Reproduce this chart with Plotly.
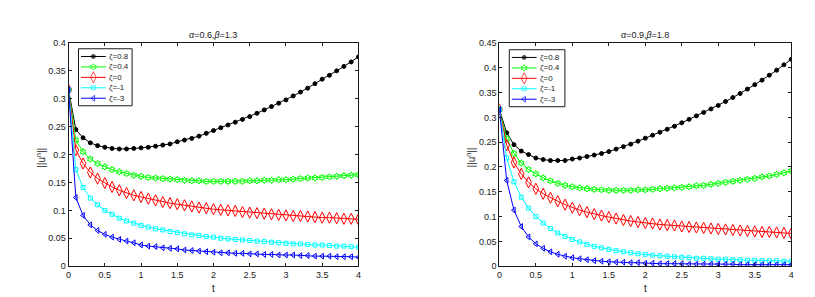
import plotly.graph_objects as go

t = [round(0.1 * i, 1) for i in range(41)]

labels = ["ζ=0.8", "ζ=0.4", "ζ=0", "ζ=-1", "ζ=-3"]
colors = ["#000000", "#00ff00", "#ff0000", "#00ffff", "#0000ff"]
symbols = ["circle", "hexagram-open", "diamond-tall-open", "square-open", "triangle-left-open"]
msizes = [4, 5, 8, 4, 5]

# Left panel: alpha=0.6, beta=1.3
left_z08 = [0.316, 0.245, 0.230, 0.221, 0.216, 0.213, 0.211, 0.210, 0.210, 0.211,
            0.212, 0.213, 0.215, 0.217, 0.219, 0.223, 0.226, 0.229, 0.233, 0.238,
            0.243, 0.248, 0.253, 0.258, 0.263, 0.268, 0.274, 0.280, 0.286, 0.292,
            0.298, 0.305, 0.312, 0.319, 0.327, 0.335, 0.342, 0.350, 0.358, 0.366, 0.375]
left_z04 = [0.316, 0.226, 0.205, 0.192, 0.184, 0.178, 0.173, 0.169, 0.166, 0.163,
            0.161, 0.159, 0.158, 0.157, 0.156, 0.155, 0.154, 0.153, 0.153, 0.152,
            0.152, 0.152, 0.152, 0.152, 0.152, 0.153, 0.153, 0.154, 0.154, 0.155,
            0.155, 0.156, 0.157, 0.158, 0.158, 0.159, 0.160, 0.161, 0.162, 0.163, 0.164]
left_z0 = [0.316, 0.208, 0.184, 0.168, 0.157, 0.149, 0.142, 0.136, 0.131, 0.127,
           0.124, 0.121, 0.118, 0.115, 0.113, 0.111, 0.109, 0.107, 0.105, 0.104,
           0.102, 0.101, 0.100, 0.099, 0.097, 0.096, 0.095, 0.094, 0.093, 0.092,
           0.091, 0.090, 0.090, 0.089, 0.088, 0.087, 0.087, 0.086, 0.085, 0.085, 0.084]
left_zm1 = [0.316, 0.173, 0.141, 0.122, 0.110, 0.100, 0.093, 0.086, 0.081, 0.077,
            0.073, 0.070, 0.067, 0.065, 0.062, 0.060, 0.058, 0.056, 0.055, 0.053,
            0.052, 0.050, 0.049, 0.048, 0.047, 0.046, 0.045, 0.044, 0.043, 0.042,
            0.041, 0.040, 0.040, 0.039, 0.038, 0.038, 0.037, 0.036, 0.036, 0.035, 0.034]
left_zm3 = [0.316, 0.123, 0.091, 0.074, 0.064, 0.057, 0.052, 0.048, 0.045, 0.042,
            0.038, 0.036, 0.035, 0.033, 0.032, 0.031, 0.029, 0.028, 0.027, 0.026,
            0.025, 0.024, 0.024, 0.023, 0.023, 0.022, 0.022, 0.021, 0.021, 0.020,
            0.020, 0.020, 0.019, 0.019, 0.018, 0.018, 0.018, 0.017, 0.017, 0.017, 0.016]

# Right panel: alpha=0.9, beta=1.8
right_z08 = [0.316, 0.269, 0.245, 0.232, 0.225, 0.218, 0.215, 0.213, 0.213, 0.213,
             0.216, 0.218, 0.221, 0.224, 0.227, 0.231, 0.236, 0.241, 0.246, 0.252,
             0.258, 0.264, 0.270, 0.276, 0.282, 0.289, 0.296, 0.303, 0.310, 0.317,
             0.324, 0.332, 0.340, 0.348, 0.357, 0.366, 0.375, 0.385, 0.395, 0.406, 0.417]
right_z04 = [0.316, 0.257, 0.227, 0.208, 0.195, 0.186, 0.178, 0.172, 0.167, 0.163,
             0.160, 0.158, 0.156, 0.155, 0.154, 0.153, 0.153, 0.153, 0.153, 0.154,
             0.154, 0.155, 0.156, 0.157, 0.158, 0.159, 0.160, 0.162, 0.163, 0.165,
             0.167, 0.169, 0.171, 0.173, 0.175, 0.177, 0.180, 0.182, 0.185, 0.188, 0.192]
right_z0 = [0.316, 0.244, 0.209, 0.186, 0.169, 0.156, 0.146, 0.138, 0.131, 0.124,
            0.118, 0.113, 0.109, 0.105, 0.102, 0.099, 0.096, 0.093, 0.091, 0.089,
            0.087, 0.086, 0.084, 0.083, 0.082, 0.080, 0.079, 0.078, 0.077, 0.076,
            0.075, 0.074, 0.073, 0.072, 0.071, 0.070, 0.069, 0.069, 0.068, 0.067, 0.066]
right_zm1 = [0.316, 0.218, 0.170, 0.139, 0.117, 0.100, 0.087, 0.076, 0.067, 0.060,
             0.054, 0.049, 0.044, 0.040, 0.037, 0.034, 0.031, 0.029, 0.027, 0.025,
             0.024, 0.022, 0.021, 0.020, 0.019, 0.018, 0.017, 0.016, 0.016, 0.015,
             0.014, 0.014, 0.013, 0.013, 0.012, 0.012, 0.011, 0.011, 0.011, 0.010, 0.010]
right_zm3 = [0.316, 0.173, 0.113, 0.080, 0.059, 0.045, 0.036, 0.029, 0.024, 0.020,
             0.017, 0.015, 0.013, 0.011, 0.010, 0.009, 0.008, 0.008, 0.007, 0.007,
             0.006, 0.006, 0.005, 0.005, 0.005, 0.005, 0.004, 0.004, 0.004, 0.004,
             0.004, 0.004, 0.004, 0.003, 0.003, 0.003, 0.003, 0.003, 0.003, 0.003, 0.003]

left_series = [left_z08, left_z04, left_z0, left_zm1, left_zm3]
right_series = [right_z08, right_z04, right_z0, right_zm1, right_zm3]

FONT = "Liberation Sans, Arial, sans-serif"
INK = "#1a1a1a"
W, H = 815, 297

fig = go.Figure()

def add_panel(series, xa, ya):
    for i, ys in enumerate(series):
        fig.add_trace(go.Scatter(
            x=t, y=ys, mode="lines+markers", name=labels[i], showlegend=False,
            line=dict(color=colors[i], width=1),
            marker=dict(symbol=symbols[i], size=msizes[i], color=colors[i],
                        line=dict(width=1, color=colors[i])),
            xaxis=xa, yaxis=ya))

add_panel(left_series, "x", "y")
add_panel(right_series, "x2", "y2")

# Compact MATLAB-style legend boxes drawn in small inset axes (pixel units)
legend_boxes = [  # (left, top, right, bottom) in page pixels
    (68, 37, 122, 96),
    (502, 38, 558, 97),
]
row_y = [8, 18.8, 29.6, 40.4, 51.2]

layout_extra = {}
for k, (bl, bt, br, bb) in enumerate(legend_boxes):
    n = 3 + k
    xa, ya = f"x{n}", f"y{n}"
    bw, bh = br - bl, bb - bt
    layout_extra[f"xaxis{n}"] = dict(domain=[bl / W, br / W], range=[0, bw], visible=False,
                                     fixedrange=True, anchor=ya)
    layout_extra[f"yaxis{n}"] = dict(domain=[1 - bb / H, 1 - bt / H], range=[bh, 0],
                                     visible=False, fixedrange=True, anchor=xa)
    fig.add_shape(type="rect", xref=f"{xa} domain", yref=f"{ya} domain",
                  x0=0, x1=1, y0=0, y1=1, line=dict(color=INK, width=1),
                  fillcolor="white", layer="below")
    for i in range(5):
        fig.add_trace(go.Scatter(
            x=[2.5, 15, 27.5], y=[row_y[i]] * 3, mode="lines+markers",
            showlegend=False, hoverinfo="skip",
            line=dict(color=colors[i], width=1),
            marker=dict(symbol=symbols[i], size=[0, msizes[i], 0], color=colors[i],
                        line=dict(width=[0, 1, 0], color=colors[i])),
            xaxis=xa, yaxis=ya))
        fig.add_annotation(xref=xa, yref=ya, x=29, y=row_y[i], text=labels[i],
                           showarrow=False, xanchor="left", yanchor="middle",
                           font=dict(size=8, family=FONT, color=INK))

ax_common = dict(showline=True, linecolor=INK, linewidth=1, mirror="allticks",
                 ticks="inside", ticklen=3, tickcolor=INK, showgrid=False,
                 zeroline=False, tickfont=dict(size=9, color=INK, family=FONT))

ydom = [1 - 262 / H, 1 - 31 / H]
fig.update_layout(
    width=W, height=H,
    margin=dict(l=0, r=0, t=0, b=0),
    paper_bgcolor="white", plot_bgcolor="rgba(0,0,0,0)",
    font=dict(family=FONT, size=9, color=INK),
    xaxis=dict(domain=[58 / W, 350 / W], range=[0, 4], dtick=0.5, anchor="y", **ax_common),
    yaxis=dict(domain=ydom, range=[0, 0.4], dtick=0.05, anchor="x", **ax_common),
    xaxis2=dict(domain=[492 / W, 786 / W], range=[0, 4], dtick=0.5, anchor="y2", **ax_common),
    yaxis2=dict(domain=ydom, range=[0, 0.45], dtick=0.05, anchor="x2", **ax_common),
    showlegend=False,
    **layout_extra,
)

annos = [
    dict(text="<i>α</i>=0.6,<i>β</i>=1.3", x=(58 + 350) / 2 / W, y=1 - 23 / H, size=9),
    dict(text="<i>α</i>=0.9,<i>β</i>=1.8", x=(492 + 786) / 2 / W, y=1 - 23 / H, size=9),
    dict(text="t", x=(58 + 350) / 2 / W, y=1 - 285 / H, size=10),
    dict(text="t", x=(492 + 786) / 2 / W, y=1 - 285 / H, size=10),
    dict(text="||u<sup>n</sup>||", x=30 / W, y=1 - 150 / H, textangle=-90, size=10),
    dict(text="||u<sup>n</sup>||", x=463 / W, y=1 - 150 / H, textangle=-90, size=10),
]
for a in annos:
    sz = a.pop("size")
    fig.add_annotation(xref="paper", yref="paper", showarrow=False,
                       xanchor="center", yanchor="middle",
                       font=dict(size=sz, family=FONT, color=INK), **a)

fig.write_html("out.html")
